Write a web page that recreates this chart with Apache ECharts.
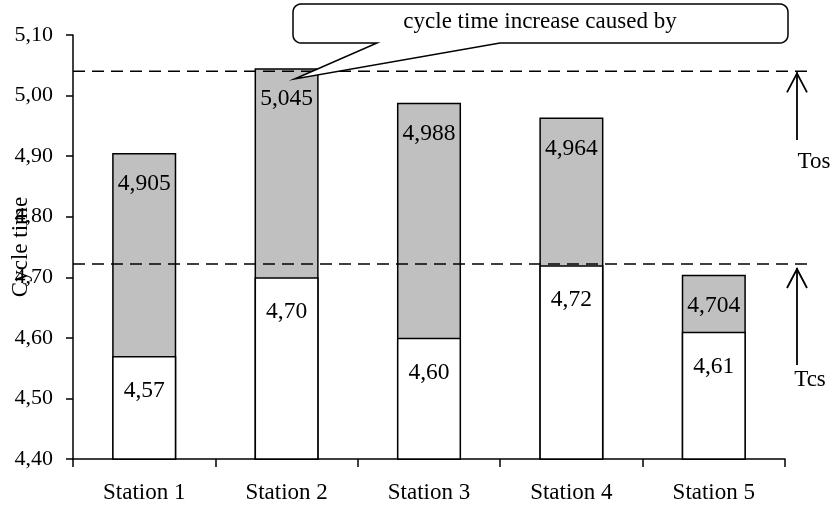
<!DOCTYPE html>
<html>
<head>
<meta charset="utf-8">
<script src="https://cdn.jsdelivr.net/npm/echarts@6/dist/echarts.min.js"></script>
<style>html,body{margin:0;padding:0;background:#fff;}#chart{width:834px;height:511px;}</style>
</head>
<body>
<div id="chart"></div>
<script>
const categories = ['Station 1', 'Station 2', 'Station 3', 'Station 4', 'Station 5'];
const baseValues = [4.57, 4.70, 4.60, 4.72, 4.61];
const totalValues = [4.905, 5.045, 4.988, 4.964, 4.704];
const tosLevel = 5.04;
const tcsLevel = 4.722;
const calloutText = 'cycle time increase caused by';
const yAxisName = 'Cycle time';

const FONT = '"Liberation Serif", "Times New Roman", serif';
const fmt = (v, d) => v.toFixed(d).replace('.', ',');

const chart = echarts.init(document.getElementById('chart'));
chart.setOption({
  animation: false,
  backgroundColor: '#fff',
  grid: { left: 73, right: 49, top: 35, bottom: 52, containLabel: false, outerBoundsMode: 'none' },
  xAxis: {
    type: 'category',
    data: categories,
    axisLine: { lineStyle: { color: '#000', width: 1.5 } },
    axisTick: { show: true, length: 8, lineStyle: { color: '#000', width: 1.5 } },
    axisLabel: { color: '#000', fontFamily: FONT, fontSize: 23, margin: 22 }
  },
  yAxis: {
    type: 'value',
    min: 4.4, max: 5.1, interval: 0.1,
    name: yAxisName,
    nameLocation: 'middle',
    nameRotate: 90,
    nameGap: 41,
    nameMoveOverlap: false,
    nameTextStyle: { color: '#000', fontFamily: FONT, fontSize: 23 },
    axisLine: { show: true, lineStyle: { color: '#000', width: 1.5 } },
    axisTick: { show: true, length: 7, lineStyle: { color: '#000', width: 1.5 } },
    splitLine: { show: false },
    axisLabel: { color: '#000', fontFamily: FONT, fontSize: 22, margin: 20,
      formatter: v => fmt(v, 2) }
  },
  series: [
    {
      name: 'total',
      type: 'bar',
      data: totalValues,
      barWidth: '45%',
      barGap: '-100%',
      itemStyle: { color: '#c0c0c0', borderColor: '#000', borderWidth: 1.5 },
      label: { show: true, position: 'insideTop', distance: 19, color: '#000',
        fontFamily: FONT, fontSize: 23.5, formatter: p => fmt(p.value, 3) },
      z: 2
    },
    {
      name: 'base',
      type: 'bar',
      data: baseValues,
      barWidth: '45%',
      barGap: '-100%',
      itemStyle: { color: '#fff', borderColor: '#000', borderWidth: 1.5 },
      label: { show: true, position: 'insideTop', distance: 23, color: '#000',
        fontFamily: FONT, fontSize: 23.5, formatter: p => fmt(p.value, 2) },
      z: 3
    }
  ]
});

function roundedCorner(cx, cy, r, a0, a1, pts) {
  for (let i = 0; i <= 6; i++) {
    const a = a0 + (a1 - a0) * i / 6;
    pts.push([cx + r * Math.cos(a), cy + r * Math.sin(a)]);
  }
}

function drawOverlay() {
  const yTos = chart.convertToPixel({ yAxisIndex: 0 }, tosLevel);
  const yTcs = chart.convertToPixel({ yAxisIndex: 0 }, tcsLevel);
  const xStart = 73, xEnd = 810, ax = 797;
  const dash = { stroke: '#000', lineWidth: 1.5, lineDash: [12, 7] };
  const solid = { stroke: '#000', lineWidth: 1.8, fill: null };
  const arrow = (tip, bottom) => ([
    { type: 'line', shape: { x1: ax, y1: tip, x2: ax, y2: bottom }, style: solid, z: 10 },
    { type: 'polyline', shape: { points: [[ax - 10, tip + 20], [ax, tip + 1], [ax + 10, tip + 20]] }, style: solid, z: 10 }
  ]);
  const tipX = chart.convertToPixel({ xAxisIndex: 0 }, categories[1]) + 8;
  const L = 293, R = 788, T = 4, B = 43, r = 8;
  const pts = [];
  roundedCorner(L + r, T + r, r, Math.PI, 1.5 * Math.PI, pts);
  roundedCorner(R - r, T + r, r, 1.5 * Math.PI, 2 * Math.PI, pts);
  roundedCorner(R - r, B - r, r, 0, 0.5 * Math.PI, pts);
  pts.push([500, B], [tipX, 79], [377, B]);
  roundedCorner(L + r, B - r, r, 0.5 * Math.PI, Math.PI, pts);
  chart.setOption({
    graphic: [
      { type: 'line', shape: { x1: xStart, y1: yTos, x2: xEnd, y2: yTos }, style: dash, z: 10 },
      { type: 'line', shape: { x1: xStart, y1: yTcs, x2: xEnd, y2: yTcs }, style: dash, z: 10 },
      ...arrow(yTos + 1, 140),
      ...arrow(yTcs + 4, 365),
      { type: 'text', x: 814, y: 162, style: { text: 'Tos', font: '23px ' + FONT, fill: '#000', textAlign: 'center', textVerticalAlign: 'middle' }, z: 10 },
      { type: 'text', x: 810, y: 380, style: { text: 'Tcs', font: '23px ' + FONT, fill: '#000', textAlign: 'center', textVerticalAlign: 'middle' }, z: 10 },
      { type: 'polygon', z: 20, shape: { points: pts }, style: { fill: '#fff', stroke: '#000', lineWidth: 1.5 } },
      { type: 'text', x: 540, y: 22, z: 21, style: { text: calloutText, font: '23px ' + FONT, fill: '#000', textAlign: 'center', textVerticalAlign: 'middle' } }
    ]
  });
}
drawOverlay();
</script>
</body>
</html>
